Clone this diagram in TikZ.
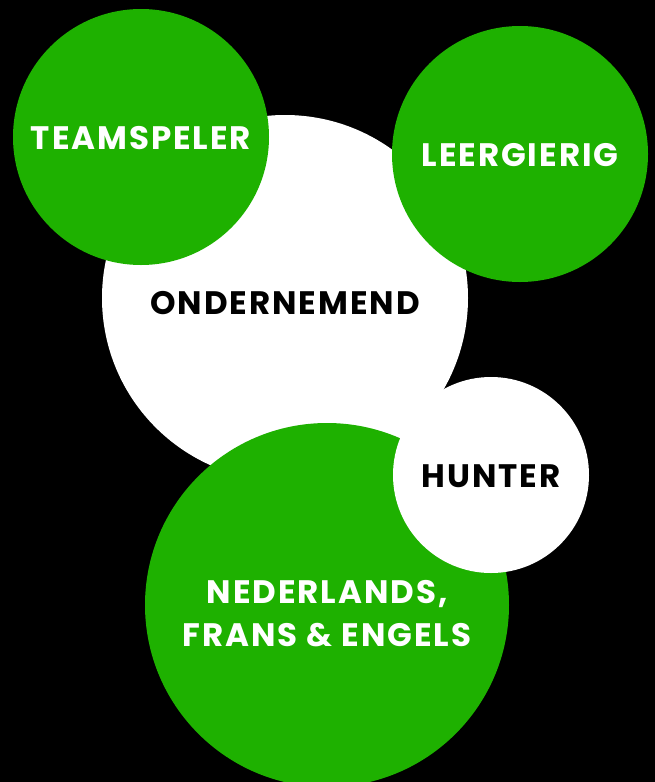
\documentclass[tikz,border=0pt]{standalone}
\usepackage{fontspec}
\setmainfont{Poppins}[LetterSpace=6]
\usetikzlibrary{positioning}

\definecolor{bubblegreen}{RGB}{30,177,0}

\tikzset{
  bubble/.style={circle,draw=none,inner sep=0pt,outer sep=0pt},
  greenbubble/.style={bubble,fill=bubblegreen},
  whitebubble/.style={bubble,fill=white},
  bubbletext/.style={font=\fontsize{32.5}{43}\selectfont\bfseries,align=center,inner sep=0pt},
  lighttext/.style={bubbletext,text=white},
  darktext/.style={bubbletext,text=black},
}

\begin{document}
\begin{tikzpicture}[x=1pt,y=-1pt]
\fill[black] (0,0) rectangle (655,782);
\useasboundingbox (0,0) rectangle (655,782);
\clip (0,0) rectangle (655,782);

% big white one in the middle
\node (ondernemend) [whitebubble,minimum size=366pt] at (285,298) {};
\node (ondernemendtext) [darktext,yshift=-5pt] at (ondernemend) {ONDERNEMEND};

\node (teamspeler) [greenbubble,minimum size=256pt] at (141,137) {};
\node (teamspelertext) [lighttext,yshift=-1pt] at (teamspeler) {TEAMSPELER};

\node (leergierig) [greenbubble,minimum size=256pt] at (520,154) {};
\node (leergierigtext) [lighttext,yshift=-1pt] at (leergierig) {LEERGIERIG};

% talen, onderaan
\node (talen) [greenbubble,minimum size=364pt] at (327,605) {};
\node (talentext) [lighttext,yshift=-9pt] at (talen) {NEDERLANDS,\\FRANS \& ENGELS};

\node (hunter) [whitebubble,minimum size=196pt] at (491,475) {};
\node (huntertext) [darktext,yshift=-1pt] at (hunter) {HUNTER};
\end{tikzpicture}
\end{document}
